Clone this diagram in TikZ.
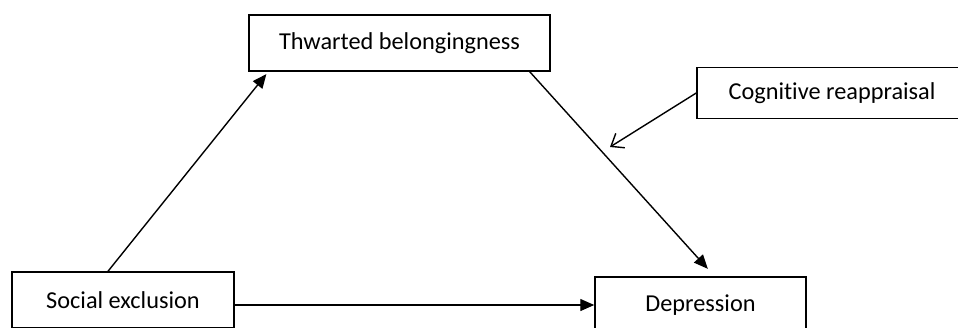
\documentclass[tikz,border=0pt]{standalone}
\usepackage{fontspec}
\setmainfont{Carlito}[Ligatures=NoCommon]
\usetikzlibrary{arrows.meta}
\usetikzlibrary{positioning}
\tikzstyle{factor} = [rectangle, draw=black, line width=1.5pt, minimum height=56pt, inner sep=0pt, text centered, font=\fontsize{24.3}{28}\selectfont]
\tikzstyle{path} = [line width=1.4pt, -{Triangle[length=14pt,width=12pt]}]
\tikzstyle{modpath} = [line width=1.4pt, -{Straight Barb[length=11pt,width=17pt,line width=1.4pt]}]

\begin{document}
\begin{tikzpicture}[x=1pt, y=-1pt]
\useasboundingbox (0,0) rectangle (958,327);

\node (soc) [factor, minimum width=222pt] at (123,300) {Social exclusion};
\node (thw) [factor, minimum width=301pt] at (399.5,43) {Thwarted belongingness};
\node (dep) [factor, minimum width=211pt] at (700.5,305) {Depression};
\node (cog) [factor, minimum width=270pt, minimum height=51pt] at (832,93) {Cognitive reappraisal};

\coordinate (mod) at (610,147);

\draw[path, shorten >=3pt] ([xshift=-15pt]soc.north) -- ([xshift=20pt]thw.south west);
\draw[path, shorten >=10pt] ([xshift=-21pt]thw.south east) -- ([xshift=14pt]dep.north);
\draw[path] (soc.east |- dep.west) -- (dep.west);
\draw[modpath] (cog.west) -- (mod);

\end{tikzpicture}
\end{document}
